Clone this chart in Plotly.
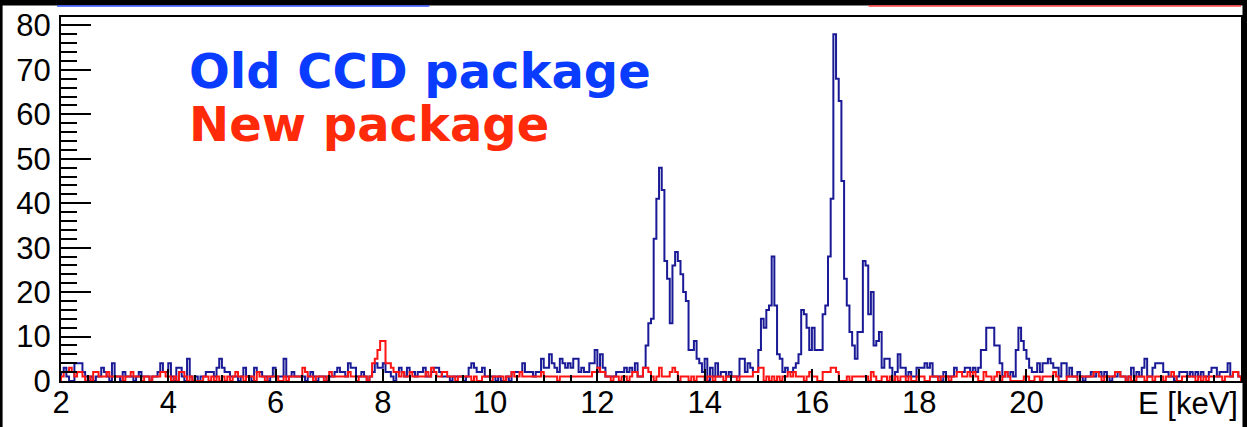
import numpy as np
import plotly.graph_objects as go

# Energy binning (keV)
E_MIN = 2.0
E_MAX = 24.0
BIN_WIDTH = 0.05

# Counts per 0.05 keV bin, one row per keV (20 bins each), starting at 2 keV
OLD_CCD_COUNTS = [
    2, 3, 1, 0, 0, 4, 4, 4, 2, 1, 0, 1, 0, 1, 1, 3, 2, 1, 0, 4,          # 2 keV
    1, 1, 0, 2, 1, 1, 1, 0, 1, 2, 1, 1, 1, 0, 1, 1, 2, 4, 2, 2,          # 3
    4, 1, 0, 3, 3, 1, 0, 5, 1, 0, 1, 0, 1, 1, 2, 2, 2, 1, 3, 5,          # 4
    3, 2, 2, 1, 1, 1, 0, 1, 3, 1, 1, 0, 3, 2, 2, 1, 1, 0, 1, 3,          # 5
    1, 1, 1, 5, 1, 1, 2, 1, 1, 1, 1, 0, 1, 2, 1, 0, 1, 1, 1, 0,          # 6
    1, 1, 2, 3, 2, 2, 1, 4, 3, 3, 1, 1, 2, 1, 0, 1, 2, 4, 3, 3,          # 7
    4, 2, 2, 1, 0, 2, 3, 2, 1, 3, 2, 2, 1, 2, 2, 3, 1, 1, 2, 3,          # 8
    3, 2, 1, 1, 1, 0, 1, 1, 1, 1, 0, 1, 3, 4, 3, 2, 2, 3, 1, 1,          # 9
    1, 1, 0, 1, 0, 0, 1, 0, 2, 2, 2, 2, 4, 2, 2, 2, 1, 2, 2, 5,          # 10
    3, 3, 6, 4, 3, 2, 5, 4, 3, 4, 3, 5, 5, 2, 3, 2, 2, 4, 4, 7,          # 11
    2, 6, 3, 1, 1, 1, 1, 2, 2, 2, 3, 2, 3, 2, 4, 1, 1, 3, 8, 13,         # 12
    14, 32, 41, 48, 43, 27, 23, 13, 26, 29, 27, 24, 20, 18, 7, 7, 9, 5, 4, 2,   # 13
    5, 0, 3, 1, 4, 1, 2, 2, 1, 2, 1, 1, 1, 5, 5, 2, 4, 3, 2, 2,          # 14
    7, 14, 12, 16, 17, 28, 17, 6, 5, 2, 3, 2, 2, 3, 4, 6, 16, 15, 12, 7,  # 15
    12, 7, 7, 7, 15, 17, 28, 41, 78, 68, 63, 45, 23, 17, 11, 8, 5, 11, 11, 27,  # 16
    26, 15, 20, 8, 9, 11, 3, 5, 5, 3, 0, 2, 6, 3, 3, 1, 2, 1, 1, 3,      # 17
    3, 3, 4, 3, 4, 1, 1, 1, 0, 2, 1, 1, 1, 3, 2, 2, 2, 3, 3, 2,          # 18
    3, 2, 3, 7, 7, 12, 12, 12, 8, 8, 4, 1, 2, 1, 2, 1, 7, 12, 9, 7,      # 19
    5, 3, 2, 2, 4, 2, 4, 4, 5, 4, 3, 3, 1, 4, 4, 1, 3, 1, 1, 2,          # 20
    1, 0, 1, 1, 2, 1, 2, 2, 1, 2, 1, 0, 1, 1, 2, 1, 1, 0, 1, 3,          # 21
    1, 2, 1, 3, 5, 1, 1, 3, 4, 4, 4, 2, 2, 1, 1, 0, 1, 2, 2, 2,          # 22
    1, 2, 1, 2, 1, 2, 1, 1, 2, 3, 3, 1, 2, 2, 2, 4, 1, 2, 2, 1,          # 23
]

NEW_PKG_COUNTS = [
    1, 2, 2, 3, 2, 1, 2, 2, 1, 0, 1, 0, 2, 2, 1, 1, 1, 2, 1, 1,          # 2 keV
    1, 1, 1, 0, 1, 1, 2, 1, 1, 1, 0, 1, 1, 0, 1, 1, 1, 2, 2, 1,          # 3
    1, 0, 1, 0, 2, 2, 1, 0, 1, 0, 0, 0, 0, 1, 1, 0, 1, 0, 1, 0,          # 4
    1, 0, 1, 0, 1, 2, 1, 1, 0, 1, 1, 1, 0, 2, 1, 1, 0, 1, 1, 1,          # 5
    1, 0, 0, 1, 0, 1, 1, 1, 1, 1, 3, 2, 1, 1, 0, 1, 1, 1, 0, 1,          # 6
    2, 1, 1, 1, 1, 1, 1, 2, 1, 1, 0, 1, 1, 1, 0, 1, 4, 5, 7, 9,          # 7
    9, 4, 4, 3, 2, 2, 1, 2, 1, 1, 2, 1, 1, 1, 1, 1, 2, 1, 3, 2,          # 8
    1, 1, 2, 2, 1, 1, 1, 0, 1, 1, 1, 1, 1, 0, 1, 0, 0, 1, 1, 1,          # 9
    0, 1, 1, 1, 1, 0, 1, 1, 2, 1, 1, 2, 1, 1, 1, 1, 1, 1, 1, 2,          # 10
    1, 1, 1, 1, 1, 0, 1, 1, 1, 1, 1, 1, 1, 1, 1, 1, 1, 1, 2, 2,          # 11
    3, 2, 2, 1, 1, 0, 1, 1, 0, 1, 1, 0, 1, 2, 2, 1, 1, 3, 3, 2,          # 12
    1, 0, 1, 3, 1, 1, 1, 2, 3, 2, 0, 1, 1, 1, 0, 1, 0, 1, 1, 1,          # 13
    0, 1, 1, 0, 1, 1, 1, 0, 1, 1, 1, 1, 0, 1, 1, 1, 1, 1, 2, 2,          # 14
    3, 3, 0, 1, 0, 1, 0, 1, 0, 1, 1, 2, 1, 2, 1, 1, 1, 0, 1, 2,          # 15
    1, 1, 0, 0, 2, 2, 2, 3, 3, 2, 0, 0, 0, 1, 0, 1, 1, 1, 1, 1,          # 16
    1, 0, 2, 1, 0, 0, 1, 1, 0, 1, 0, 1, 0, 1, 1, 0, 1, 0, 0, 1,          # 17
    1, 1, 0, 0, 1, 1, 1, 0, 1, 1, 1, 0, 1, 1, 2, 2, 1, 1, 2, 1,          # 18
    2, 1, 0, 0, 2, 1, 1, 0, 1, 2, 0, 1, 2, 1, 0, 0, 0, 0, 0, 1,          # 19
    1, 0, 0, 1, 1, 0, 1, 1, 1, 1, 2, 1, 0, 0, 0, 1, 1, 1, 1, 0,          # 20
    1, 1, 1, 1, 1, 2, 2, 1, 0, 1, 1, 1, 1, 2, 2, 1, 1, 0, 1, 0,          # 21
    0, 1, 1, 1, 0, 1, 1, 0, 1, 1, 1, 0, 1, 1, 2, 1, 0, 0, 1, 1,          # 22
    1, 1, 1, 0, 1, 0, 1, 0, 1, 1, 1, 1, 1, 0, 1, 1, 1, 2, 2, 1,          # 23
]

X_TICKS = [2, 4, 6, 8, 10, 12, 14, 16, 18, 20]
X_TICK_TEXT = ["2", "4", "6", "8", "10", "12", "14", "16", "18", "20"]
Y_TICKS = [0, 10, 20, 30, 40, 50, 60, 70, 80]
Y_MAX = 81.9

LABEL_OLD = "Old CCD package"
LABEL_NEW = "New package"
X_TITLE = "E [keV]"

HIST_BLUE = "#1a1a96"
HIST_RED = "#ff1414"
TEXT_BLUE = "#0a3cff"
TEXT_RED = "#ff2a0a"

W, H = 1247, 427
ML, MR, MT, MB = 61, 4, 17, 46


def step_outline(counts):
    """ROOT-style histogram outline: rise from zero at the left edge, drop at the right edge."""
    edges = E_MIN + BIN_WIDTH * np.arange(len(counts) + 1)
    xs = np.concatenate([[edges[0]], edges, [edges[-1]]])
    ys = np.concatenate([[0], counts, [counts[-1]], [0]])
    return xs, ys


def px_to_paper_x(px):
    return (px - ML) / (W - ML - MR)


def px_to_paper_y(py):
    return (H - MB - py) / (H - MT - MB)


fig = go.Figure()

for counts, color in ((OLD_CCD_COUNTS, HIST_BLUE), (NEW_PKG_COUNTS, HIST_RED)):
    xs, ys = step_outline(counts)
    fig.add_trace(go.Scatter(
        x=xs, y=ys, mode="lines",
        line=dict(color=color, width=2, shape="hv"),
        hoverinfo="skip", showlegend=False,
    ))

FONT = "Liberation Sans, Arial, Helvetica, sans-serif"
BOLD_FONT = "DejaVu Sans, Liberation Sans, sans-serif"


def black_band(x0, x1, y0, y1):
    return dict(type="rect", xref="paper", yref="paper", layer="above",
                x0=px_to_paper_x(x0), x1=px_to_paper_x(x1),
                y0=px_to_paper_y(y0), y1=px_to_paper_y(y1),
                fillcolor="black", line=dict(width=0))


def thin_rule(x0, x1, y, color):
    return dict(type="line", xref="paper", yref="paper", layer="above",
                x0=px_to_paper_x(x0), x1=px_to_paper_x(x1),
                y0=px_to_paper_y(y), y1=px_to_paper_y(y),
                line=dict(color=color, width=1.5))


fig.update_layout(
    width=W, height=H,
    margin=dict(l=ML, r=MR, t=MT, b=MB),
    paper_bgcolor="white",
    plot_bgcolor="white",
    font=dict(family=FONT, size=30, color="black"),
    xaxis=dict(
        range=[E_MIN, E_MAX],
        tickvals=X_TICKS, ticktext=X_TICK_TEXT,
        ticks="inside", ticklen=12, tickwidth=1.5, tickcolor="black",
        minor=dict(dtick=0.5, ticks="inside", ticklen=6, tickwidth=1.5, tickcolor="black"),
        showline=True, linecolor="black", linewidth=2, mirror=True,
        showgrid=False, zeroline=False,
        ticklabelstandoff=-7,
        tickfont=dict(family=FONT, size=31, color="black"),
    ),
    yaxis=dict(
        range=[0, Y_MAX],
        tickvals=Y_TICKS,
        ticks="inside", ticklen=30, tickwidth=1.5, tickcolor="black",
        minor=dict(dtick=2, ticks="inside", ticklen=16, tickwidth=1.5, tickcolor="black"),
        showline=True, linecolor="black", linewidth=2, mirror=True,
        showgrid=False, zeroline=False,
        ticklabelstandoff=2,
        tickfont=dict(family=FONT, size=31, color="black"),
    ),
    shapes=[
        black_band(-5, W + 5, -5, 5.5),      # dark strip above the slide
        black_band(-5, 2.5, -5, H + 5),      # left edge
        black_band(1244.5, W + 5, -5, H + 5),  # right edge
        thin_rule(57, 430, 6, "#3050ff"),
        thin_rule(870, 1243, 6, "#ff4040"),
    ],
    annotations=[
        dict(text=LABEL_OLD, xref="paper", yref="paper",
             x=px_to_paper_x(187), y=px_to_paper_y(71),
             xanchor="left", yanchor="middle", showarrow=False,
             font=dict(family=BOLD_FONT, size=48, color=TEXT_BLUE, weight="bold")),
        dict(text=LABEL_NEW, xref="paper", yref="paper",
             x=px_to_paper_x(187), y=px_to_paper_y(124),
             xanchor="left", yanchor="middle", showarrow=False,
             font=dict(family=BOLD_FONT, size=48, color=TEXT_RED, weight="bold")),
        dict(text=X_TITLE, xref="paper", yref="paper",
             x=px_to_paper_x(1242), y=px_to_paper_y(384),
             xanchor="right", yanchor="top", showarrow=False,
             font=dict(family=FONT, size=31, color="black")),
    ],
)

fig.write_html("out.html")
